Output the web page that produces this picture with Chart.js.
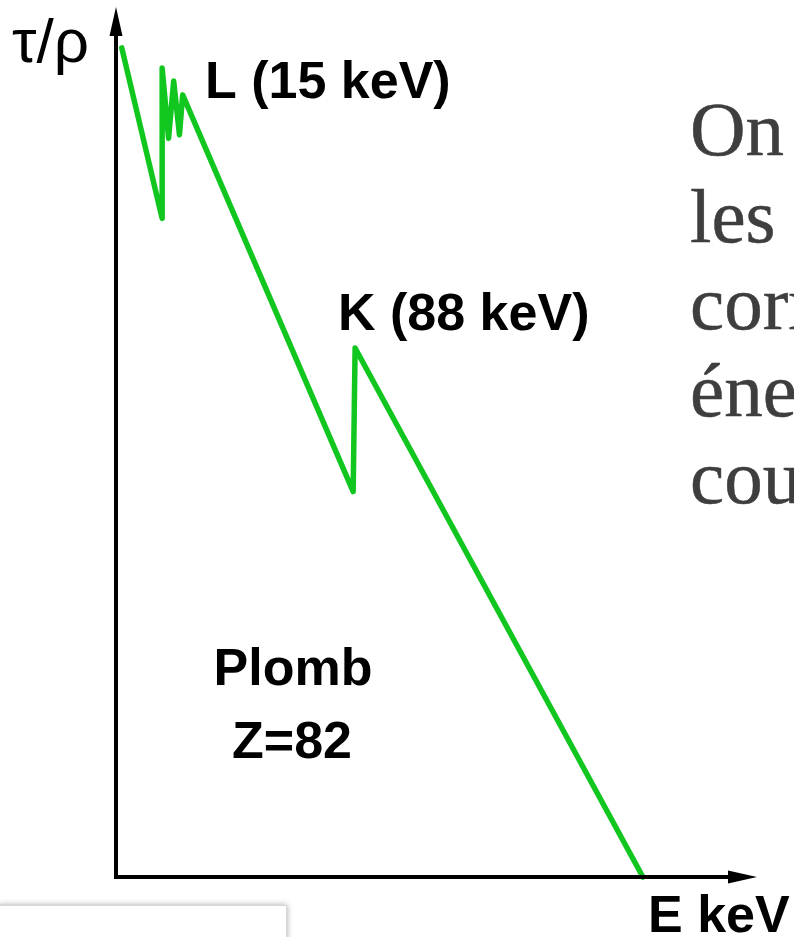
<!DOCTYPE html>
<html>
<head>
<meta charset="utf-8">
<script src="https://cdn.jsdelivr.net/npm/chart.js@4.4.1/dist/chart.umd.min.js"></script>
<style>
  html, body { margin:0; padding:0; background:#fff; overflow:hidden; }
  #wrap { position:relative; width:794px; height:937px; overflow:hidden; }
  #chart { position:absolute; left:0; top:0; }
  .slide-text {
    position:absolute; left:690px; top:86px; white-space:nowrap;
    font-family:"Liberation Serif","DejaVu Serif",serif; font-size:77px;
    line-height:87px; color:#3e3e3e; -webkit-text-stroke:0.5px #3e3e3e;
  }
  .note-box {
    position:absolute; left:-2px; top:905px; width:287px; height:60px;
    border:1px solid #d8d8d8; background:#fff;
    box-shadow:0 0 6px rgba(0,0,0,0.35);
  }
</style>
</head>
<body>
<div id="wrap">
  <canvas id="chart" width="794" height="937"></canvas>
  <div class="slide-text">
    On observe<br>
    les pics<br>
    correspondant<br>
    énergies<br>
    couches
  </div>
  <div class="note-box"></div>
</div>
<script>
// schematic photo-absorption curve for lead (arbitrary units)
const energy = [0.9, 7.2, 7.2, 8.2, 9.0, 9.9, 10.4, 37.0, 37.3, 82.2];
const tauRho = [95.3, 75.7, 93.0, 84.9, 91.5, 85.3, 89.9, 44.3, 60.8, 0];

const yTitle = 'τ/ρ';
const xTitle = 'E keV';
const edgeLabels = ['L (15 keV)', 'K (88 keV)'];
const elementLabels = ['Plomb', 'Z=82'];

const GREEN = '#12c620';
const BOLD = 'bold 52px "Liberation Sans", Arial, sans-serif';

// axes with arrows + labels
const sketchAxes = {
  id: 'sketchAxes',
  afterDatasetsDraw(chart){
    const { ctx, chartArea:a } = chart;
    ctx.save();
    ctx.strokeStyle = '#000';
    ctx.fillStyle = '#000';
    ctx.lineWidth = 4;
    ctx.beginPath();
    ctx.moveTo(a.left, a.top + 20);
    ctx.lineTo(a.left, a.bottom);
    ctx.lineTo(a.right - 20, a.bottom);
    ctx.stroke();
    // arrow heads
    ctx.beginPath();
    ctx.moveTo(a.left, a.top);
    ctx.lineTo(a.left - 6.5, a.top + 29);
    ctx.lineTo(a.left + 6.5, a.top + 29);
    ctx.closePath();
    ctx.fill();
    ctx.beginPath();
    ctx.moveTo(a.right, a.bottom);
    ctx.lineTo(a.right - 29, a.bottom - 6.5);
    ctx.lineTo(a.right - 29, a.bottom + 6.5);
    ctx.closePath();
    ctx.fill();

    ctx.textBaseline = 'alphabetic';
    ctx.textAlign = 'left';
    ctx.font = '62px "Liberation Sans", Arial, sans-serif';
    ctx.fillText(yTitle, 12, 62);
    ctx.font = BOLD;
    ctx.fillText(xTitle, 648, 932);
    ctx.fillText(edgeLabels[0], 205, 98);
    ctx.fillText(edgeLabels[1], 338, 330);
    ctx.textAlign = 'center';
    ctx.fillText(elementLabels[0], 293, 685);
    ctx.fillText(elementLabels[1], 292, 758);
    ctx.restore();
  }
};

new Chart(document.getElementById('chart'), {
  type: 'line',
  data: {
    datasets: [{
      data: energy.map((x, i) => ({ x, y: tauRho[i] })),
      borderColor: GREEN,
      borderWidth: 5.5,
      borderJoinStyle: 'round',
      borderCapStyle: 'round',
      pointRadius: 0,
      tension: 0,
      fill: false,
      clip: false
    }]
  },
  options: {
    responsive: false,
    animation: false,
    devicePixelRatio: 1,
    layout: { padding: { left:116, top:7, right:37, bottom:60 } },
    plugins: { legend:{ display:false }, tooltip:{ enabled:false } },
    scales: {
      x: { type:'linear', min:0, max:100, display:false },
      y: { type:'linear', min:0, max:100, display:false }
    }
  },
  plugins: [sketchAxes]
});
</script>
</body>
</html>
